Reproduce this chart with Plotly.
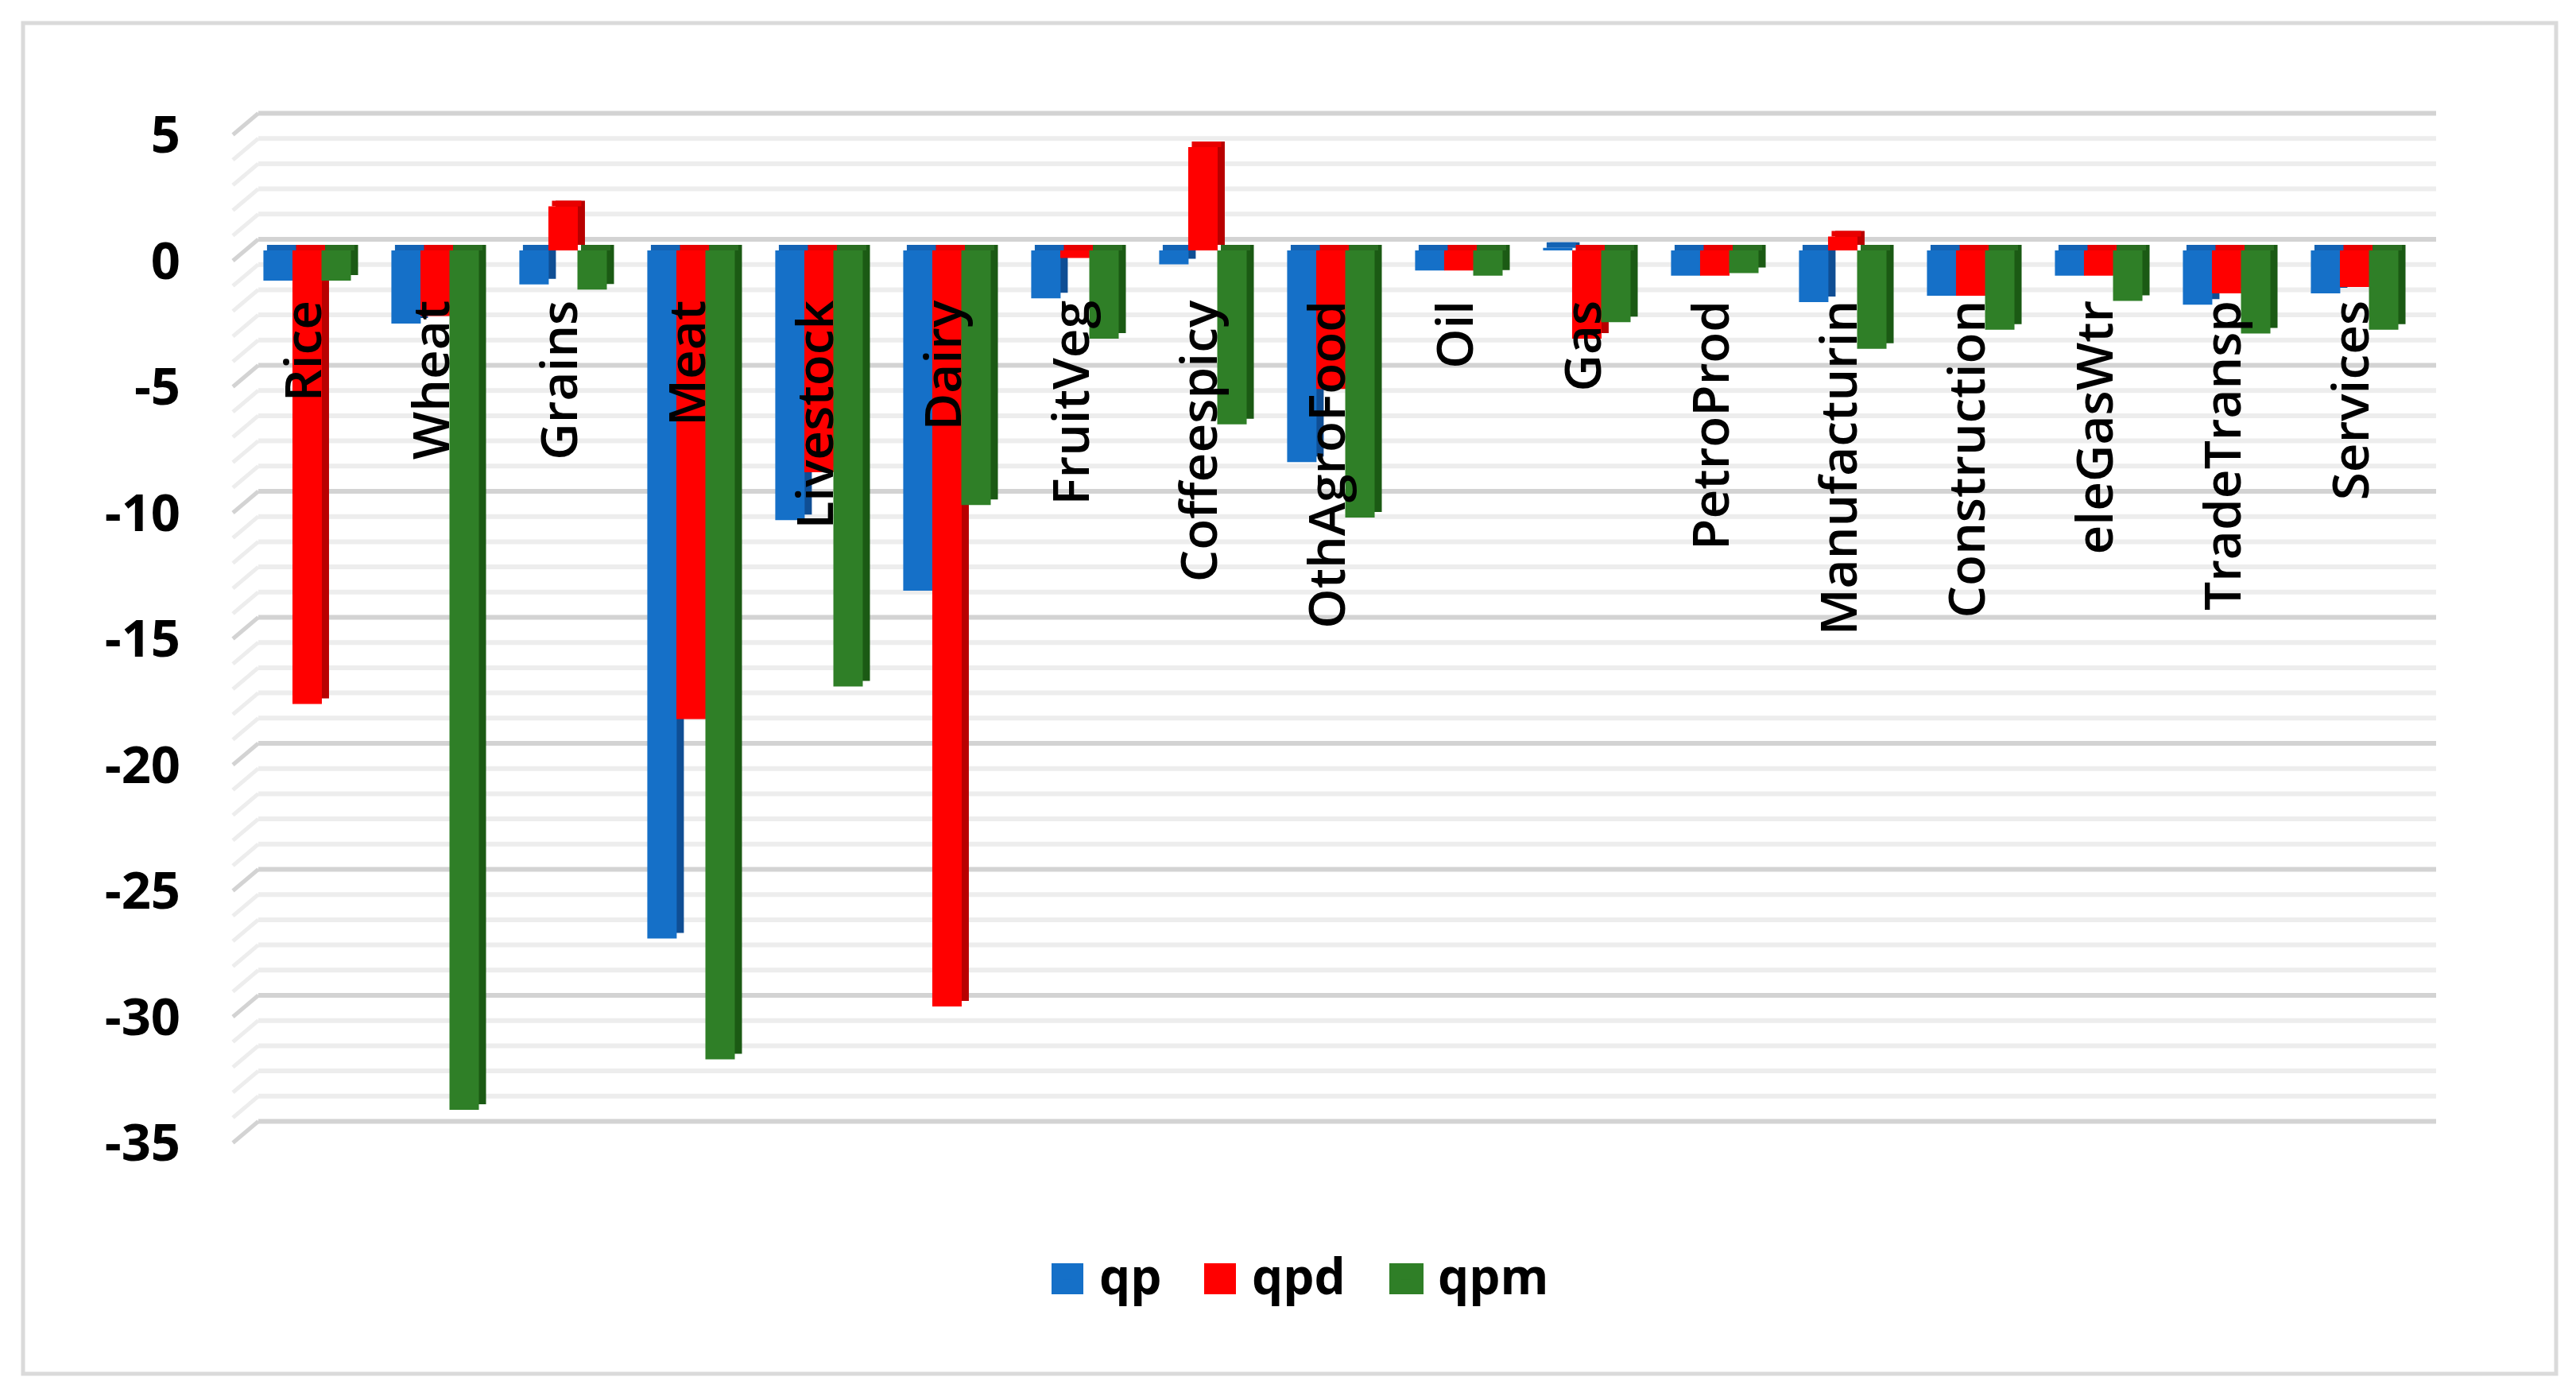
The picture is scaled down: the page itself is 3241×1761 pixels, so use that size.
import plotly.graph_objects as go

categories = ["Rice", "Wheat", "Grains", "Meat", "Livestock", "Dairy", "FruitVeg", "Coffeespicy", "OthAgroFood",
              "Oil", "Gas", "PetroProd", "Manufacturin", "Construction", "eleGasWtr", "TradeTransp", "Services"]
qp = [-1.2, -2.9, -1.35, -27.3, -10.7, -13.5, -1.9, -0.55, -8.4, -0.8, 0.1, -1.0, -2.05, -1.8, -1.0, -2.15, -1.7]
qpd = [-18.0, -2.6, 1.75, -18.6, -8.8, -30.0, -0.3, 4.1, -5.5, -0.8, -3.5, -1.0, 0.55, -1.8, -1.0, -1.7, -1.45]
qpm = [-1.2, -34.1, -1.55, -32.1, -17.3, -10.1, -3.5, -6.9, -10.6, -1.0, -2.85, -0.9, -3.9, -3.15, -2.0, -3.3, -3.15]
y_ticks = [5, 0, -5, -10, -15, -20, -25, -30, -35]
y_tick_labels = ["5", "0", "-5", "-10", "-15", "-20", "-25", "-30", "-35"]
grid_levels = list(range(-35, 6))

W, H = 3241, 1761
PX_UNIT = 31.7          # pixels per value unit
Y0 = 315                # pixel of value 0 on the bar plane
TOP, BOT = 100, 1500
L, R = 293, 3065
CAT0, CATW = 390.5, 161

series = [
    ("qp", qp, -0.367, "#1570C8", "#0F4E94", "#1463B4", "legend", 1303, 1323, 1363),
    ("qpd", qpd, -0.14, "#FF0000", "#B80000", "#E80000", "legend2", 1495, 1515, 1555),
    ("qpm", qpm, 0.087, "#2F7F27", "#1B5A14", "#2A6E22", "legend3", 1729, 1748, 1791),
]
BAR_W = 37 / CATW
DX = 9 / CATW
DY = 7 / PX_UNIT

fig = go.Figure()
for name, vals, off, front, side, cap, leg, _, _, _ in series:
    fig.add_bar(x=categories, y=vals, base=[DY] * len(vals), offset=off + DX, width=BAR_W,
                marker=dict(color=side, line_width=0), showlegend=False, hoverinfo="skip")
    fig.add_bar(x=categories, y=[DY] * len(vals), base=[max(v, 0) for v in vals], offset=off + DX / 2, width=BAR_W,
                marker=dict(color=cap, line_width=0), showlegend=False, hoverinfo="skip")
    fig.add_bar(x=categories, y=vals, offset=off, width=BAR_W, name=name, legend=leg,
                marker=dict(color=front, line_width=0))

# back wall + slanted side wall
WALL_SHIFT = 14 / PX_UNIT
FRONT_SHIFT = -13 / PX_UNIT
shapes = [dict(type="rect", xref="paper", yref="paper", x0=29 / W, x1=3216 / W, y0=1 - 1728 / H, y1=1 - 29 / H,
               line=dict(color="#DADADA", width=5), fillcolor="#FFFFFF", layer="below")]
for lv in grid_levels:
    major = lv % 5 == 0
    col = "#D3D3D3" if major else "#EDEDED"
    shapes.append(dict(type="line", xref="paper", yref="y", x0=L / W, x1=325 / W,
                       y0=lv + FRONT_SHIFT, y1=lv + WALL_SHIFT, line=dict(color=col, width=5), layer="below"))
    shapes.append(dict(type="line", xref="paper", yref="y", x0=325 / W, x1=R / W,
                       y0=lv + WALL_SHIFT, y1=lv + WALL_SHIFT, line=dict(color=col, width=6), layer="below"))
# enlarged legend keys, sitting under the native legend swatches
for name, vals, off, front, side, cap, leg, lx, sx0, sx1 in series:
    shapes.append(dict(type="rect", xref="paper", yref="paper", x0=sx0 / W, x1=sx1 / W,
                       y0=1 - 1628 / H, y1=1 - 1589 / H, fillcolor=front, line_width=0, layer="above"))

FONT = "Open Sans"
legend_style = dict(orientation="h", xanchor="left", y=1 - 1604 / H, yanchor="middle",
                    font=dict(family=FONT, size=62, color="#000000", weight=700),
                    itemwidth=70, bgcolor="rgba(0,0,0,0)")
fig.update_layout(
    width=W, height=H, margin=dict(l=0, r=0, t=0, b=0), autosize=False,
    paper_bgcolor="#FFFFFF", plot_bgcolor="rgba(0,0,0,0)",
    barmode="overlay", shapes=shapes,
    font=dict(family=FONT, color="#000000"),
    xaxis=dict(domain=[L / W, R / W], range=[(L - CAT0) / CATW, (R - CAT0) / CATW],
               type="category", categoryorder="array", categoryarray=categories,
               tickangle=-90, anchor="free", position=1 - 364 / H, side="bottom",
               showgrid=False, zeroline=False, showline=False, ticks="",
               tickfont=dict(family=FONT, size=64, color="#000000", weight=600), ticklabelshift=-7),
    yaxis=dict(domain=[1 - BOT / H, 1 - TOP / H],
               range=[(Y0 - BOT) / PX_UNIT, (Y0 - TOP) / PX_UNIT],
               tickmode="array", tickvals=y_ticks, ticktext=y_tick_labels,
               showgrid=False, zeroline=False, showline=False, ticks="",
               ticklabelstandoff=65, ticklabelshift=13,
               tickfont=dict(family=FONT, size=65, color="#000000", weight=700)),
    legend=dict(x=series[0][7] / W, **legend_style),
    legend2=dict(x=series[1][7] / W, **legend_style),
    legend3=dict(x=series[2][7] / W, **legend_style),
)
fig.write_html("out.html", config={"displayModeBar": False},
               post_script="document.body.style.margin='0';")
